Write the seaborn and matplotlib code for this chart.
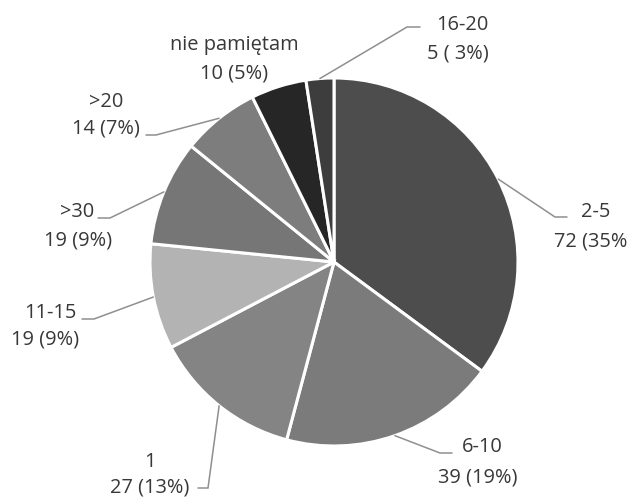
import numpy as np
import matplotlib
matplotlib.use("Agg")
import matplotlib.pyplot as plt
import seaborn as sns

# Dane: liczba odpowiedzi i procenty
categories = ["2-5", "6-10", "1", "11-15", ">30", ">20", "nie pamiętam", "16-20"]
counts = [72, 39, 27, 19, 19, 14, 10, 5]
percent_text = ["(35%", "(19%)", "(13%)", "(9%)", "(9%)", "(7%)", "(5%)", "( 3%)"]
colors = ["#4d4d4d", "#7b7b7b", "#848484", "#b3b3b3", "#767676", "#7d7d7d", "#262626", "#3d3d3d"]

# Rozmieszczenie etykiet (piksele, y liczone od góry)
name_pos = [(596, 212), (482, 447), (150, 462), (50, 313), (77, 212), (106, 102), (234, 45), (462, 25)]
value_pos = [(627, 241), (478, 477), (150, 488), (45, 340), (78, 240), (106, 128), (234, 73), (458, 53)]
value_ha = ["right", "center", "center", "center", "center", "center", "center", "center"]
elbows = [((555, 217), (567, 217)), ((440, 453), (452, 453)), ((208, 488), (198, 488)),
          ((94, 319), (82, 319)), ((110, 218), (98, 218)), ((156, 135), (146, 135)),
          None, ((407, 27), (420, 27))]

W, H = 627, 499
sns.set_theme(style="white")
plt.rcParams['font.family'] = ['Open Sans', 'DejaVu Sans']

fig = plt.figure(figsize=(W / 100, H / 100), dpi=100)
ax = fig.add_axes([0, 0, 1, 1])

cx, cy, r = 334, H - 262, 184
wedges, _ = ax.pie(counts, colors=colors, startangle=90, counterclock=False,
                   center=(cx, cy), radius=r, frame=True,
                   wedgeprops=dict(edgecolor="white", linewidth=2.2))
ax.set_xlim(0, W)
ax.set_ylim(0, H)
ax.set_aspect("equal")
ax.axis("off")

txt_color = "#383838"
fs = 14.4
for i, w in enumerate(wedges):
    mid = np.deg2rad((w.theta1 + w.theta2) / 2)
    sx, sy = cx + r * np.cos(mid), cy + r * np.sin(mid)
    if elbows[i] is not None:
        (ex, ey), (tx, ty) = elbows[i]
        ax.plot([sx, ex, tx], [sy, H - ey, H - ty], color="#8f8f8f", lw=1.1,
                solid_joinstyle="miter")
    nx, ny = name_pos[i]
    ax.text(nx, H - ny, categories[i], ha="center", va="center", fontsize=fs, color=txt_color)
    vx, vy = value_pos[i]
    ax.text(vx, H - vy, f"{counts[i]} {percent_text[i]}", ha=value_ha[i], va="center",
            fontsize=fs, color=txt_color)

fig.savefig("out.png", dpi=100, facecolor="white")
